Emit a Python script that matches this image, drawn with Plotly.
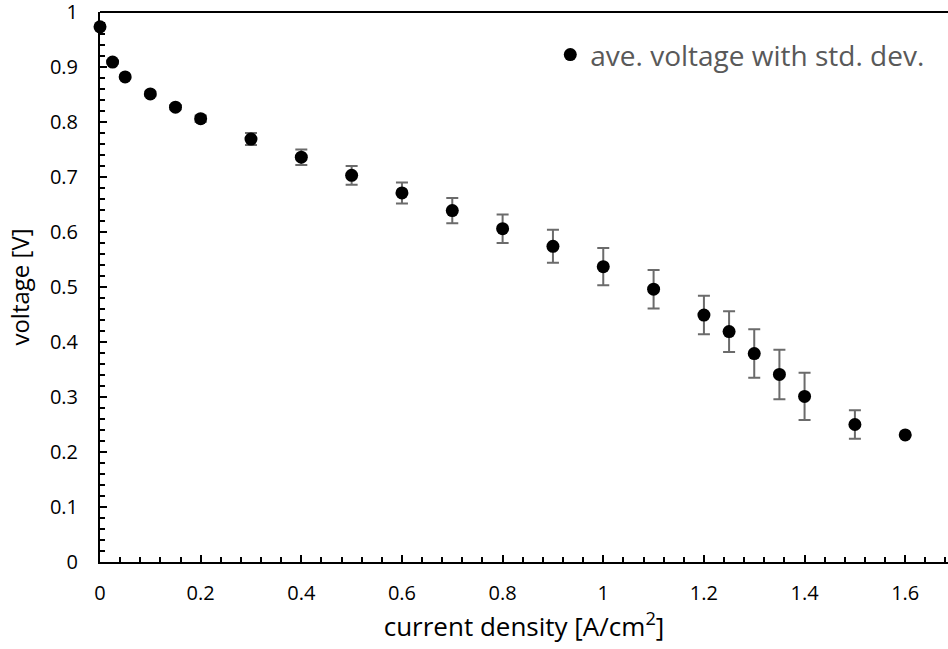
import plotly.graph_objects as go

current_density = [0, 0.025, 0.05, 0.1, 0.15, 0.2, 0.3, 0.4, 0.5, 0.6, 0.7, 0.8,
                   0.9, 1.0, 1.1, 1.2, 1.25, 1.3, 1.35, 1.4, 1.5, 1.6]
voltage = [0.973, 0.909, 0.882, 0.851, 0.827, 0.806, 0.769, 0.736, 0.703, 0.671,
           0.639, 0.606, 0.574, 0.537, 0.496, 0.449, 0.419, 0.379, 0.341, 0.301,
           0.250, 0.231]
std_dev = [0.003, 0.003, 0.003, 0.004, 0.004, 0.006, 0.011, 0.014, 0.017, 0.019,
           0.023, 0.026, 0.030, 0.034, 0.035, 0.035, 0.037, 0.044, 0.045, 0.043,
           0.026, 0.0]

FONT = "Open Sans"

fig = go.Figure()
fig.add_trace(go.Scatter(
    x=current_density, y=voltage, mode="markers",
    name="ave. voltage with std. dev.",
    marker=dict(color="black", size=13),
    error_y=dict(type="data", array=std_dev, visible=True,
                 color="#6b6b6b", thickness=2, width=6),
    cliponaxis=False,
))

fig.add_shape(type="line", xref="paper", yref="paper", x0=0, x1=1, y0=1, y1=1,
              line=dict(color="black", width=2))

axis_common = dict(
    showgrid=False, zeroline=False, showline=True, linecolor="black", linewidth=2,
    ticks="inside", ticklen=7, tickwidth=2, tickcolor="black",
    tickfont=dict(family=FONT, size=20, color="black"),
    automargin=False, ticklabeloverflow="allow",
)

fig.update_xaxes(range=[0, 1.685], dtick=0.2, tick0=0,
                 minor=dict(ticks="inside", dtick=0.04, ticklen=5, tickwidth=2,
                            tickcolor="black"),
                 ticklabelstandoff=12,
                 title=dict(text="current density [A/cm<sup>2</sup>]",
                            font=dict(family=FONT, size=26, color="black"), standoff=7),
                 **axis_common)
fig.update_yaxes(range=[0, 1.0], dtick=0.1, tick0=0,
                 minor=dict(ticks="inside", dtick=0.02, ticklen=5, tickwidth=2,
                            tickcolor="black"),
                 ticklabelstandoff=16,
                 title=dict(text="voltage [V]",
                            font=dict(family=FONT, size=24, color="black"), standoff=13),
                 **axis_common)

fig.update_layout(
    width=948, height=649,
    margin=dict(l=100, r=0, t=12, b=87),
    paper_bgcolor="white", plot_bgcolor="white",
    showlegend=True,
    legend=dict(x=0.531, y=0.922, xanchor="left", yanchor="middle",
                bgcolor="rgba(0,0,0,0)",
                font=dict(family=FONT, size=28, color="#595959"),
                itemwidth=30),
)

fig.write_html("out.html",
               config={"displayModeBar": False},
               post_script="document.body.style.margin='0px';"
                           "document.body.style.overflow='hidden';")
